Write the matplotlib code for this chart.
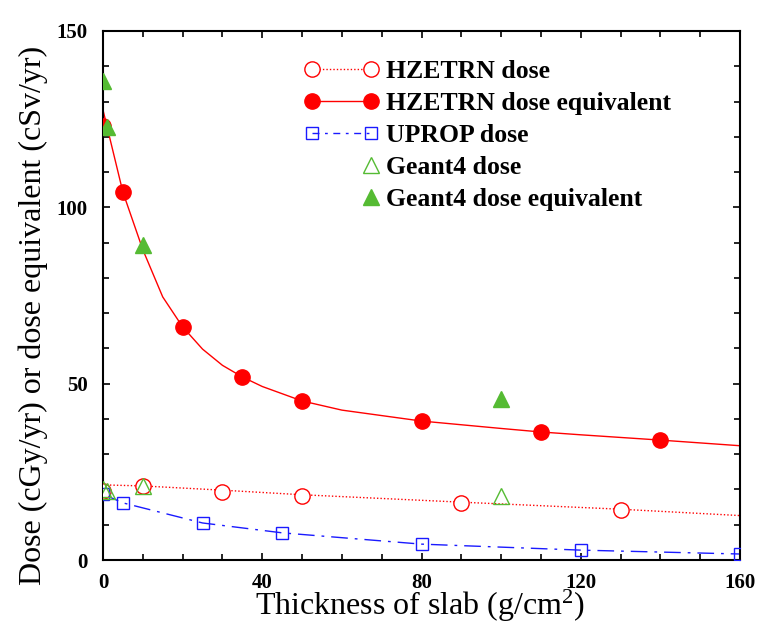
import numpy as np
import matplotlib.pyplot as plt
from matplotlib.lines import Line2D
from matplotlib.legend_handler import HandlerLine2D
from matplotlib.ticker import MultipleLocator

plt.rcParams['font.family'] = ['Liberation Serif', 'DejaVu Serif']
plt.rcParams['mathtext.fontset'] = 'custom'
plt.rcParams['mathtext.rm'] = 'Liberation Serif'
plt.rcParams['mathtext.it'] = 'Liberation Serif:italic'

RED = '#ff0000'
BLUE = '#1a1aff'
GREEN = '#55bb33'

# HZETRN dose (open circles) + model curve
hz_dose_x = [0, 10, 30, 50, 90, 130]
hz_dose_y = [19.6, 21.0, 19.4, 18.2, 16.2, 14.2]
hz_dose_curve_x = [0, 10, 30, 50, 90, 130, 160]
hz_dose_curve_y = [21.3, 21.0, 19.8, 18.5, 16.4, 14.4, 12.6]

# HZETRN dose equivalent (filled circles) + model curve
hz_eq_x = [0, 5, 20, 35, 50, 80, 110, 140]
hz_eq_y = [123.0, 104.3, 66.1, 51.9, 45.1, 39.4, 36.3, 34.0]
hz_eq_curve_x = [0, 5, 10, 15, 20, 25, 30, 35, 40, 50, 60, 80, 100, 110, 120, 140, 160]
hz_eq_curve_y = [127.6, 104.3, 88.0, 74.6, 66.1, 59.8, 55.2, 51.9, 49.2, 45.1, 42.5,
                 39.4, 37.3, 36.3, 35.5, 34.0, 32.4]

# UPROP dose
uprop_x = [0, 5, 25, 45, 80, 120, 160]
uprop_y = [18.7, 16.2, 10.5, 7.7, 4.5, 2.8, 1.7]

# Geant4
g4_dose_x = [0, 1, 10, 100]
g4_dose_y = [20.0, 19.6, 21.0, 18.1]
g4_eq_x = [0, 1, 10, 100]
g4_eq_y = [135.8, 122.8, 89.3, 45.6]


class HandlerRightMarker(HandlerLine2D):
    # only keep the marker at the right end of the legend handle
    def create_artists(self, legend, orig_handle, xdescent, ydescent, width, height,
                       fontsize, trans):
        arts = super().create_artists(legend, orig_handle, xdescent, ydescent, width,
                                      height, fontsize, trans)
        for a in arts:
            a.set_markevery([len(a.get_xdata()) - 1])
        return arts


fig = plt.figure(figsize=(7.59, 6.26), dpi=100)
ax = fig.add_axes([103 / 759, 1 - 560 / 626, 637 / 759, 529 / 626])

# curves
ax.plot(hz_dose_curve_x, hz_dose_curve_y, color=RED, lw=1.0, ls=(0, (1, 1.5)), zorder=2)
ax.plot(hz_eq_curve_x, hz_eq_curve_y, color=RED, lw=1.0, zorder=2)
ax.plot(uprop_x, uprop_y, color=BLUE, lw=1.0, ls=(0, (12, 5, 2, 5)), zorder=2)

# symbols
ax.plot(hz_dose_x, hz_dose_y, 'o', ms=11, mfc='white', mec=RED, mew=1.0, zorder=3)
ax.plot(uprop_x, uprop_y, 's', ms=9, mfc='none', mec=BLUE, mew=1.0, zorder=3)
ax.plot(hz_eq_x, hz_eq_y, 'o', ms=11, color=RED, zorder=4)
ax.plot(g4_dose_x, g4_dose_y, '^', ms=12, mfc='none', mec=GREEN, mew=1.0, zorder=5)
ax.plot(g4_eq_x, g4_eq_y, '^', ms=12, color=GREEN, zorder=5)

ax.set_xlim(0, 160)
ax.set_ylim(0, 150)
ax.xaxis.set_major_locator(MultipleLocator(40))
ax.xaxis.set_minor_locator(MultipleLocator(10))
ax.yaxis.set_major_locator(MultipleLocator(50))
ax.yaxis.set_minor_locator(MultipleLocator(10))
ax.tick_params(which='both', direction='in', top=True, right=True, width=1.2)
ax.tick_params(which='major', length=5)
ax.tick_params(which='minor', length=4)
ax.tick_params(axis='x', pad=9)
ax.tick_params(axis='y', pad=11)
for lab in ax.get_xticklabels() + ax.get_yticklabels():
    lab.set_fontweight('bold')
    lab.set_fontsize(15)
for sp in ax.spines.values():
    sp.set_linewidth(1.5)

ax.set_xlabel('Thickness of slab (g/cm$^{2}$)', fontsize=23)
ax.xaxis.set_label_coords(0.497, -0.052)
ax.set_ylabel('Dose (cGy/yr) or dose equivalent (cSv/yr)', fontsize=23)
ax.yaxis.set_label_coords(-0.086, 0.463)

handles = [
    Line2D([], [], color=RED, lw=1.0, ls=(0, (1, 1.5)), marker='o', ms=11,
           mfc='white', mec=RED),
    Line2D([], [], color=RED, lw=1.0, marker='o', ms=11),
    Line2D([], [], color=BLUE, lw=1.0, ls=(0, (5, 4, 2, 4)), marker='s', ms=9,
           mfc='none', mec=BLUE),
    Line2D([], [], ls='none', marker='^', ms=12, mfc='none', mec=GREEN),
    Line2D([], [], ls='none', marker='^', ms=12, color=GREEN),
]
labels = ['HZETRN dose', 'HZETRN dose equivalent', 'UPROP dose',
          'Geant4 dose', 'Geant4 dose equivalent']
leg = ax.legend(handles, labels, loc='upper left', bbox_to_anchor=(0.28, 0.988),
                frameon=False, numpoints=2, handlelength=2.9, handletextpad=0.27,
                labelspacing=0.35, prop={'weight': 'bold', 'size': 18.5},
                handler_map={handles[3]: HandlerRightMarker(),
                             handles[4]: HandlerRightMarker()})

fig.savefig('out.png', dpi=100)
